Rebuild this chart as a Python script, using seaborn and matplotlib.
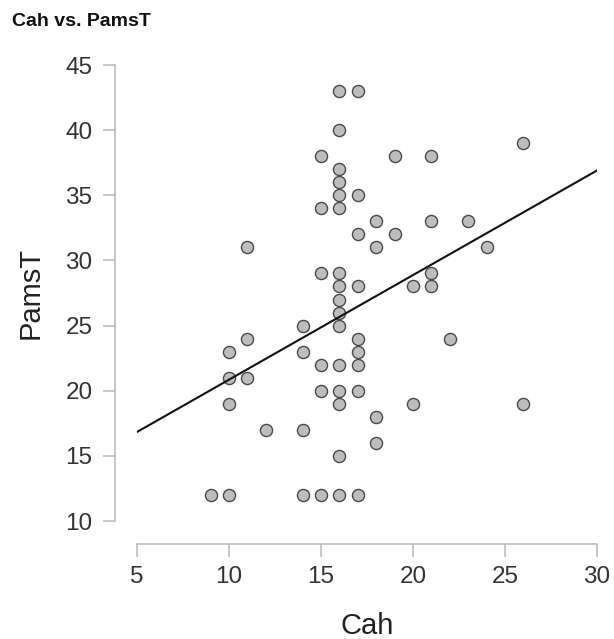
import matplotlib
matplotlib.use("Agg")
import matplotlib.pyplot as plt
import seaborn as sns
import pandas as pd

# Cah scores and the matching PamsT scores, one entry per respondent
cah = [9,
       10, 10, 10, 10,
       11, 11, 11,
       12,
       14, 14, 14, 14,
       15, 15, 15, 15, 15, 15,
       16, 16, 16, 16, 16, 16, 16, 16, 16, 16, 16, 16, 16, 16, 16, 16,
       17, 17, 17, 17, 17, 17, 17, 17, 17,
       18, 18, 18, 18,
       19, 19,
       20, 20,
       21, 21, 21, 21,
       22,
       23,
       24,
       26, 26]
pamst = [12,
         23, 21, 19, 12,
         31, 24, 21,
         17,
         25, 23, 17, 12,
         38, 34, 29, 22, 20, 12,
         43, 40, 37, 36, 35, 34, 29, 28, 27, 26, 25, 22, 20, 19, 15, 12,
         43, 35, 32, 28, 24, 23, 22, 20, 12,
         33, 31, 18, 16,
         38, 32,
         28, 19,
         38, 33, 29, 28,
         24,
         33,
         31,
         39, 19]

x_ticks = [5, 10, 15, 20, 25, 30]
y_ticks = [10, 15, 20, 25, 30, 35, 40, 45]

df = pd.DataFrame({"Cah": cah, "PamsT": pamst})

sns.set_theme(style="white")
plt.rcParams["font.family"] = ["Liberation Sans", "DejaVu Sans"]

fig = plt.figure(figsize=(6.14, 6.39), dpi=100)
ax = fig.add_axes([137 / 614, 118 / 639, 460 / 614, 456 / 639])
ax.set_xlim(5, 30)
ax.set_ylim(10, 45)

sns.regplot(data=df, x="Cah", y="PamsT", ax=ax, ci=None, truncate=False,
            scatter_kws=dict(s=76, color="#bdbdbd", edgecolor="#4a4a4a",
                             linewidths=1.0, alpha=1),
            line_kws=dict(color="#111111", lw=1.5))

ax.set_xlim(5, 30)
ax.set_ylim(10, 45)
ax.set_xticks(x_ticks)
ax.set_yticks(y_ticks)

for side in ("top", "right"):
    ax.spines[side].set_visible(False)
ax.spines["left"].set_position(("outward", 16))
ax.spines["bottom"].set_position(("outward", 16.5))
for side in ("left", "bottom"):
    ax.spines[side].set_color("#bdbdbd")
    ax.spines[side].set_linewidth(1.2)

ax.tick_params(axis="both", direction="out", length=9, width=1.2,
               color="#bdbdbd", labelsize=17.5, labelcolor="#333333",
               left=True, bottom=True)
ax.tick_params(axis="x", pad=7)
ax.tick_params(axis="y", pad=7)

ax.set_xlabel("Cah", fontsize=21, color="#222222", labelpad=17)
ax.set_ylabel("PamsT", fontsize=21, color="#222222", labelpad=15)

fig.text(12 / 614, 1 - 26 / 639, "Cah vs. PamsT", fontsize=14,
         fontweight="bold", color="#111111")

fig.savefig("out.png", dpi=100)
